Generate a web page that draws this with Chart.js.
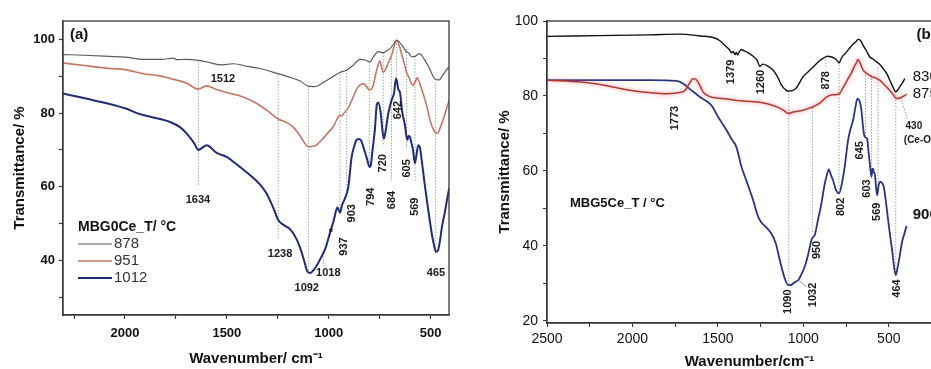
<!DOCTYPE html>
<html>
<head>
<meta charset="utf-8">
<script src="https://cdn.jsdelivr.net/npm/chart.js@4.4.1/dist/chart.umd.min.js"></script>
<style>
html, body { margin: 0; padding: 0; background: #fff; overflow: hidden; width: 931px; height: 369px; }
#boxA { position: absolute; left: 0; top: 0; width: 465px; height: 369px; }
#clipB { position: absolute; left: 460px; top: 0; width: 471px; height: 369px; overflow: hidden; }
#boxB { position: absolute; left: 0; top: 0; width: 505px; height: 369px; }
</style>
</head>
<body>
<div id="boxA"><canvas id="chartA"></canvas></div>
<div id="clipB"><div id="boxB"><canvas id="chartB"></canvas></div></div>
<script>
// panel (a): MBG0Ce_T, wavenumber (cm-1) and transmittance (%)
var wnA878 = [2304, 2200, 2074, 2000, 1910, 1820, 1760, 1746, 1700, 1640, 1590, 1534, 1469, 1400, 1338, 1248, 1190, 1140, 1100, 1075, 1059, 1030, 994, 945, 912, 880, 847, 820, 806, 798, 780, 757, 733, 715, 700, 680, 667, 655, 634, 618, 609, 593, 577, 561, 552, 530, 505, 480, 460, 438, 414, 405];
var trA878 = [95.9, 95.7, 95.4, 95.2, 94.6, 94.6, 94.9, 94.5, 94.6, 94.3, 93.8, 93.1, 93.4, 92.7, 92.1, 90.7, 89.7, 88.7, 87.3, 87.2, 87.3, 88.2, 89.4, 91.0, 91.7, 93.0, 94.6, 94.4, 94.0, 93.9, 95.3, 96.7, 96.4, 96.9, 97.5, 98.8, 99.8, 99.4, 97.9, 96.6, 96.4, 95.3, 95.4, 96.0, 96.1, 94.5, 92.0, 89.3, 89.0, 90.5, 92.3, 92.5];

var wnA951 = [2304, 2200, 2074, 2000, 1910, 1830, 1779, 1700, 1640, 1599, 1550, 1500, 1420, 1360, 1305, 1248, 1210, 1174, 1140, 1100, 1075, 1059, 1035, 1000, 978, 958, 948, 937, 925, 904, 880, 860, 847, 830, 815, 800, 785, 765, 749, 733, 720, 708, 690, 667, 655, 643, 630, 618, 605, 588, 577, 566, 550, 520, 500, 480, 465, 455, 440, 425, 414, 405];
var trA951 = [93.6, 92.9, 92.1, 91.8, 90.7, 90.1, 89.4, 88.2, 86.5, 87.4, 86.4, 85.6, 84.4, 82.8, 80.8, 78.4, 77.5, 76.2, 73.8, 70.9, 71.0, 71.4, 72.7, 74.9, 76.3, 78.5, 79.4, 79.2, 80.0, 81.4, 84.4, 86.8, 87.6, 88.0, 87.2, 86.3, 87.0, 91.6, 94.1, 91.1, 92.0, 93.6, 96.0, 99.7, 98.5, 96.1, 93.5, 91.1, 89.5, 87.5, 88.3, 89.6, 87.5, 82.1, 77.5, 74.9, 74.5, 75.8, 78.0, 80.7, 82.6, 83.6];

var wnA1012 = [2304, 2156, 2000, 1930, 1861, 1779, 1730, 1698, 1660, 1640, 1620, 1599, 1550, 1500, 1469, 1436, 1387, 1340, 1305, 1270, 1248, 1220, 1190, 1160, 1141, 1120, 1105, 1090, 1075, 1055, 1035, 1015, 994, 975, 958, 950, 945, 935, 921, 904, 888, 875, 864, 850, 840, 823, 812, 800, 795, 785, 773, 765, 757, 745, 735, 729, 720, 708, 692, 680, 670, 665, 659, 650, 640, 626, 615, 608, 602, 595, 588, 577, 570, 561, 552, 545, 530, 520, 496, 485, 474, 465, 455, 445, 430, 418, 409];
var trA1012 = [85.3, 83.5, 81.3, 79.8, 78.8, 77.6, 76.2, 74.5, 71.8, 70.0, 70.6, 71.3, 69.2, 68.1, 66.8, 65.4, 63.2, 60.8, 58.2, 54.0, 51.0, 49.6, 48.5, 46.0, 43.5, 39.8, 37.0, 36.6, 37.4, 39.0, 41.1, 43.5, 47.5, 51.0, 54.4, 53.6, 53.0, 55.0, 56.8, 60.0, 68.0, 71.0, 72.7, 73.0, 72.4, 69.5, 67.5, 65.4, 65.6, 70.0, 76.0, 82.0, 82.9, 80.0, 74.5, 73.1, 75.5, 79.9, 83.5, 85.3, 89.4, 88.5, 86.5, 85.5, 80.5, 76.7, 72.7, 73.8, 73.6, 72.0, 70.5, 66.4, 68.5, 71.3, 70.5, 67.7, 61.0, 56.9, 47.8, 44.5, 42.4, 42.6, 45.1, 49.0, 53.2, 57.0, 59.6];

var seriesA = ["878", "951", "1012"];

// panel (b): MBG5Ce_T
var wnB830 = [2500, 2200, 1900, 1723, 1600, 1528, 1490, 1450, 1430, 1420, 1410, 1400, 1392, 1385, 1375, 1362, 1345, 1330, 1294, 1270, 1255, 1236, 1210, 1177, 1150, 1128, 1100, 1089, 1060, 1040, 1002, 970, 943, 910, 885, 860, 835, 815, 800, 791, 780, 770, 748, 725, 709, 690, 680, 665, 650, 630, 611, 590, 572, 555, 533, 510, 494, 475, 459, 448, 436, 420, 406];
var trB830 = [95.9, 96.1, 96.3, 96.5, 96.0, 95.6, 94.8, 93.1, 92.2, 91.5, 91.9, 91.0, 91.6, 90.9, 91.8, 92.4, 92.0, 91.7, 90.6, 89.5, 87.9, 88.5, 88.0, 86.9, 85.0, 82.9, 81.5, 81.3, 81.5, 82.2, 85.1, 86.5, 87.7, 89.2, 90.0, 90.6, 90.4, 90.0, 89.3, 88.8, 89.8, 90.6, 91.7, 93.0, 93.8, 94.6, 95.1, 94.8, 93.5, 92.0, 90.4, 89.8, 89.1, 88.5, 87.3, 85.8, 84.2, 82.3, 81.1, 81.6, 82.4, 83.5, 84.6];

var wnB875 = [2500, 2300, 2172, 2016, 1880, 1800, 1743, 1700, 1684, 1665, 1645, 1630, 1616, 1600, 1587, 1560, 1528, 1450, 1372, 1300, 1255, 1200, 1150, 1110, 1089, 1060, 1002, 962, 943, 900, 865, 830, 791, 770, 738, 720, 703, 690, 680, 665, 650, 630, 611, 595, 582, 565, 553, 530, 504, 480, 455, 440, 426, 410, 396];
var trB875 = [84.2, 83.7, 82.9, 81.5, 80.8, 80.6, 80.8, 81.2, 82.0, 83.5, 84.6, 84.5, 83.7, 82.3, 81.1, 80.1, 79.6, 79.2, 78.7, 78.5, 78.3, 77.8, 77.0, 76.0, 75.3, 75.7, 76.2, 76.8, 77.1, 78.2, 79.7, 80.3, 80.5, 82.0, 84.6, 86.0, 87.7, 88.8, 89.7, 88.5, 86.9, 86.0, 85.5, 85.0, 84.9, 84.5, 84.2, 83.2, 82.0, 80.7, 79.3, 79.4, 79.6, 80.0, 80.5];

var wnB906 = [2500, 2200, 1900, 1743, 1704, 1650, 1600, 1538, 1500, 1450, 1420, 1392, 1362, 1330, 1294, 1270, 1255, 1230, 1210, 1187, 1160, 1138, 1110, 1089, 1070, 1050, 1031, 1010, 992, 970, 953, 940, 933, 914, 894, 875, 865, 851, 838, 826, 810, 791, 775, 758, 738, 725, 709, 695, 683, 670, 660, 650, 641, 627, 618, 611, 601, 596, 592, 587, 582, 575, 568, 558, 549, 540, 529, 516, 504, 490, 478, 468, 459, 450, 440, 430, 420, 410, 396];
var trB906 = [84.2, 84.2, 84.2, 84.0, 83.3, 81.3, 79.6, 77.5, 74.5, 70.9, 68.5, 66.4, 61.1, 57.0, 52.2, 48.5, 46.9, 45.5, 44.6, 43.3, 40.5, 36.2, 31.5, 29.5, 29.6, 30.3, 30.8, 32.5, 34.4, 38.0, 41.5, 42.5, 42.9, 47.0, 51.3, 56.5, 58.4, 60.4, 58.8, 57.5, 55.0, 54.0, 56.5, 61.1, 68.2, 71.0, 73.5, 77.0, 79.3, 78.5, 76.2, 71.5, 69.1, 68.6, 65.0, 62.0, 58.4, 60.5, 60.6, 59.5, 59.3, 56.0, 53.5, 56.5, 57.1, 56.8, 55.7, 51.5, 46.9, 42.0, 38.0, 34.0, 32.2, 33.8, 36.2, 39.0, 41.5, 43.0, 45.3];

var seriesB = ["830", "875", "906"];

// peak guides: [wavenumber, T from, wavenumber, T to]
var guidesA = [[1640, 94.3, 1640, 60.5], [1248, 90.4, 1248, 45.6], [1100, 87.3, 1100, 36.7], [1027, 41.1, 1027, 38.4],
  [945, 91.1, 945, 53.5], [912, 92.5, 912, 58.7], [801, 93.9, 801, 65.9], [733, 96.4, 733, 71.0], [692, 95.7, 692, 61.4],
  [667, 99.7, 667, 89.4], [618, 97.5, 618, 70.4], [577, 95.4, 577, 61.4], [477, 89.4, 477, 41.5]];
// peak tags: [text, wavenumber, T, rotated]
var tagsA = [["1634", 1642, 56.4, 0], ["1512", 1519, 89.2, 0], ["1238", 1239, 41.8, 0], ["1092", 1108, 32.6, 0],
  ["1018", 1002, 36.6, 0], ["*", 989, 47.5, 0], ["937", 924, 43.8, 1], ["903", 888, 52.8, 1], ["794", 795, 57.3, 1],
  ["720", 736, 66.4, 1], ["684", 692, 56.4, 1], ["642", 659, 80.8, 1], ["605", 618, 65.0, 1], ["569", 577, 54.6, 1],
  ["465", 474, 36.6, 0]];

var guidesB = [[1085, 81.3, 1085, 29.5], [947, 76.9, 947, 43.3], [869, 89.7, 869, 87.7], [791, 89.1, 791, 54.4],
  [636, 86.4, 636, 69.1], [601, 85.5, 601, 61.1], [563, 87.7, 563, 54.0], [459, 81.3, 459, 31.7], [430, 79.6, 389, 73.5]];
var leadersB = [[1031, 30.9, 982, 29.1]];
var tagsB = [["1379", 1421, 86.4, 1], ["1260", 1245, 83.7, 1], ["1773", 1753, 74.1, 1], ["878", 870, 84.2, 1],
  ["1090", 1089, 25.1, 1], ["1032", 943, 26.9, 1], ["950", 920, 38.9, 1], ["802", 777, 50.4, 1], ["645", 670, 65.5, 1],
  ["603", 627, 55.3, 1], ["569", 568, 49.1, 1], ["464", 451, 28.6, 1]];
// series names written next to the curve ends in (b): [wavenumber, T]
var endTagsB = [[360, 85.0], [360, 80.6], [360, 48.2]];

var FONT = '"Liberation Sans", Arial, Helvetica, sans-serif';
Chart.defaults.font.family = FONT;
Chart.defaults.color = "#111";

function pts(wn, tr){
    var out = [];
    for (let i = 0; i < wn.length; i++){
        out.push({x: wn[i], y: tr[i]});
    }
    return out;
}

function drawText(ctx, text, x, y, rot, align){
    ctx.save();
    ctx.translate(x, y);
    if (rot) ctx.rotate(-Math.PI / 2);
    ctx.textAlign = align || "center";
    ctx.textBaseline = "middle";
    ctx.fillText(text, 0, 0);
    ctx.restore();
}

function marks(cfg){
    return {
        id: "marks" + cfg.name,
        beforeDatasetsDraw: function(chart){
            var ctx = chart.ctx, xs = chart.scales.x, ys = chart.scales.y;
            ctx.save();
            ctx.strokeStyle = "#7a7a7a";
            ctx.lineWidth = 0.8;
            ctx.setLineDash([1.3, 1.7]);
            cfg.guides.forEach(function(g){
                ctx.beginPath();
                ctx.moveTo(xs.getPixelForValue(g[0]), ys.getPixelForValue(g[1]));
                ctx.lineTo(xs.getPixelForValue(g[2]), ys.getPixelForValue(g[3]));
                ctx.stroke();
            });
            ctx.setLineDash([]);
            (cfg.leaders || []).forEach(function(g){
                ctx.beginPath();
                ctx.moveTo(xs.getPixelForValue(g[0]), ys.getPixelForValue(g[1]));
                ctx.lineTo(xs.getPixelForValue(g[2]), ys.getPixelForValue(g[3]));
                ctx.stroke();
            });
            ctx.restore();
        },
        beforeDatasetDraw: function(chart, args){
            var ds = chart.data.datasets[args.index];
            chart.ctx.save();
            if (ds.glow){
                chart.ctx.shadowColor = ds.glow;
                chart.ctx.shadowBlur = 4;
            }
        },
        afterDatasetDraw: function(chart){
            chart.ctx.restore();
        },
        afterDraw: function(chart){
            var ctx = chart.ctx, xs = chart.scales.x, ys = chart.scales.y, a = chart.chartArea;
            ctx.save();
            // frame
            ctx.strokeStyle = cfg.axisColor;
            ctx.lineWidth = 1.3;
            ctx.strokeRect(a.left, a.top, a.right - a.left, a.bottom - a.top);
            // peak tags
            ctx.fillStyle = "#1a1a1a";
            ctx.font = "bold 11px " + FONT;
            cfg.tags.forEach(function(t){
                drawText(ctx, t[0], xs.getPixelForValue(t[1]), ys.getPixelForValue(t[2]), t[3]);
            });
            cfg.extra(ctx, chart, xs, ys, a);
            ctx.restore();
        }
    };
}

new Chart(document.getElementById("chartA"), {
    type: "line",
    data: {
        datasets: [
            {label: seriesA[0], data: pts(wnA878, trA878), borderColor: "#5a5a5a", borderWidth: 1.2},
            {label: seriesA[1], data: pts(wnA951, trA951), borderColor: "#c57565", borderWidth: 1.6},
            {label: seriesA[2], data: pts(wnA1012, trA1012), borderColor: "#1f2c78", borderWidth: 2}
        ]
    },
    options: {
        responsive: true,
        maintainAspectRatio: false,
        animation: false,
        layout: {padding: {top: 21, right: 16, bottom: 0, left: 0}},
        elements: {point: {radius: 0}, line: {cubicInterpolationMode: "monotone"}},
        plugins: {legend: {display: false}, tooltip: {enabled: false}},
        scales: {
            x: {
                type: "linear", reverse: true, min: 410, max: 2304,
                afterFit: function(s){ s.height = 54; },
                border: {color: "#3a3a3a", width: 1.3},
                grid: {drawOnChartArea: false, tickLength: 4, tickColor: "#3a3a3a", tickWidth: 1.2},
                ticks: {stepSize: 250, includeBounds: false, autoSkip: false, maxRotation: 0, padding: 7,
                    font: {size: 13, weight: "bold"},
                    callback: function(v){ return v % 500 === 0 ? String(v) : ""; }},
                title: {display: true, text: "Wavenumber/ cm\u207B\u00B9", font: {size: 15, weight: "bold"}, padding: {top: 0, bottom: 1}}
            },
            y: {
                min: 25.2, max: 105,
                afterFit: function(s){ s.width = 63; },
                border: {color: "#3a3a3a", width: 1.3},
                grid: {drawOnChartArea: false, tickLength: 4, tickColor: "#3a3a3a", tickWidth: 1.2},
                ticks: {stepSize: 10, includeBounds: false, autoSkip: false, padding: 4,
                    font: {size: 13, weight: "bold"},
                    callback: function(v){ return v % 20 === 0 ? String(v) : ""; }},
                title: {display: true, text: "Transmittance/ %", font: {size: 15, weight: "bold"}, padding: {top: 11, bottom: 0}}
            }
        }
    },
    plugins: [marks({
        name: "A", axisColor: "#3a3a3a", guides: guidesA, tags: tagsA,
        extra: function(ctx, chart, xs, ys, a){
            ctx.fillStyle = "#111";
            ctx.font = "bold 15px " + FONT;
            drawText(ctx, "(a)", a.left + 7, a.top + 14, 0, "left");
            ctx.font = "bold 14px " + FONT;
            drawText(ctx, "MBG0Ce_T/ \u00B0C", a.left + 15, 227, 0, "left");
            ctx.font = "15px " + FONT;
            chart.data.datasets.forEach(function(ds, i){
                var y = 244 + i * 17;
                ctx.strokeStyle = ds.borderColor;
                ctx.lineWidth = ds.borderWidth;
                ctx.beginPath();
                ctx.moveTo(a.left + 15, y);
                ctx.lineTo(a.left + 49, y);
                ctx.stroke();
                ctx.fillStyle = "#333";
                drawText(ctx, ds.label, a.left + 51, y, 0, "left");
            });
        }
    })]
});

new Chart(document.getElementById("chartB"), {
    type: "line",
    data: {
        datasets: [
            {label: seriesB[0], data: pts(wnB830, trB830), borderColor: "#111111", borderWidth: 1.4},
            {label: seriesB[1], data: pts(wnB875, trB875), borderColor: "#b03a33", borderWidth: 1.5, glow: "rgba(240,120,120,0.9)"},
            {label: seriesB[2], data: pts(wnB906, trB906), borderColor: "#2a3480", borderWidth: 1.8}
        ]
    },
    options: {
        responsive: true,
        maintainAspectRatio: false,
        animation: false,
        layout: {padding: {top: 21, right: 13, bottom: 0, left: 0}},
        elements: {point: {radius: 0}, line: {cubicInterpolationMode: "monotone"}},
        plugins: {legend: {display: false}, tooltip: {enabled: false}},
        scales: {
            x: {
                type: "linear", reverse: true, min: 130, max: 2500,
                afterFit: function(s){ s.height = 46; },
                border: {color: "#333", width: 1.2},
                grid: {drawOnChartArea: false, tickLength: 4, tickColor: "#333", tickWidth: 1},
                ticks: {stepSize: 250, includeBounds: false, autoSkip: false, maxRotation: 0, padding: 4,
                    font: {size: 14},
                    callback: function(v){ return v % 500 === 0 ? String(v) : ""; }},
                title: {display: true, text: "Wavenumber/cm\u207B\u00B9", font: {size: 15, weight: "bold"}, padding: {top: 0, bottom: -2}}
            },
            y: {
                min: 19.4, max: 100,
                afterFit: function(s){ s.width = 87; },
                border: {color: "#333", width: 1.2},
                grid: {drawOnChartArea: false, tickLength: 4, tickColor: "#333", tickWidth: 1},
                ticks: {stepSize: 10, includeBounds: false, autoSkip: false, padding: 5,
                    font: {size: 14},
                    callback: function(v){ return v % 20 === 0 ? String(v) : ""; }},
                title: {display: true, text: "Transmittance/ %", font: {size: 15, weight: "bold"}, padding: {top: 36, bottom: 0}}
            }
        }
    },
    plugins: [marks({
        name: "B", axisColor: "#333", guides: guidesB, leaders: leadersB, tags: tagsB,
        extra: function(ctx, chart, xs, ys, a){
            ctx.fillStyle = "#1a1a1a";
            ctx.font = "bold 10px " + FONT;
            drawText(ctx, "430", xs.getPixelForValue(402), ys.getPixelForValue(71.9), 0, "left");
            drawText(ctx, "(Ce-O)", xs.getPixelForValue(412), ys.getPixelForValue(68.3), 0, "left");
            ctx.fillStyle = "#111";
            ctx.font = "bold 15px " + FONT;
            drawText(ctx, "(b)", xs.getPixelForValue(338), a.top + 14, 0, "left");
            ctx.font = "bold 13px " + FONT;
            drawText(ctx, "MBG5Ce_T / \u00B0C", a.left + 23, 203, 0, "left");
            chart.data.datasets.forEach(function(ds, i){
                ctx.font = (i === 2 ? "bold " : "") + "15px " + FONT;
                drawText(ctx, ds.label, xs.getPixelForValue(endTagsB[i][0]), ys.getPixelForValue(endTagsB[i][1]), 0, "left");
            });
        }
    })]
});
</script>
</body>
</html>
